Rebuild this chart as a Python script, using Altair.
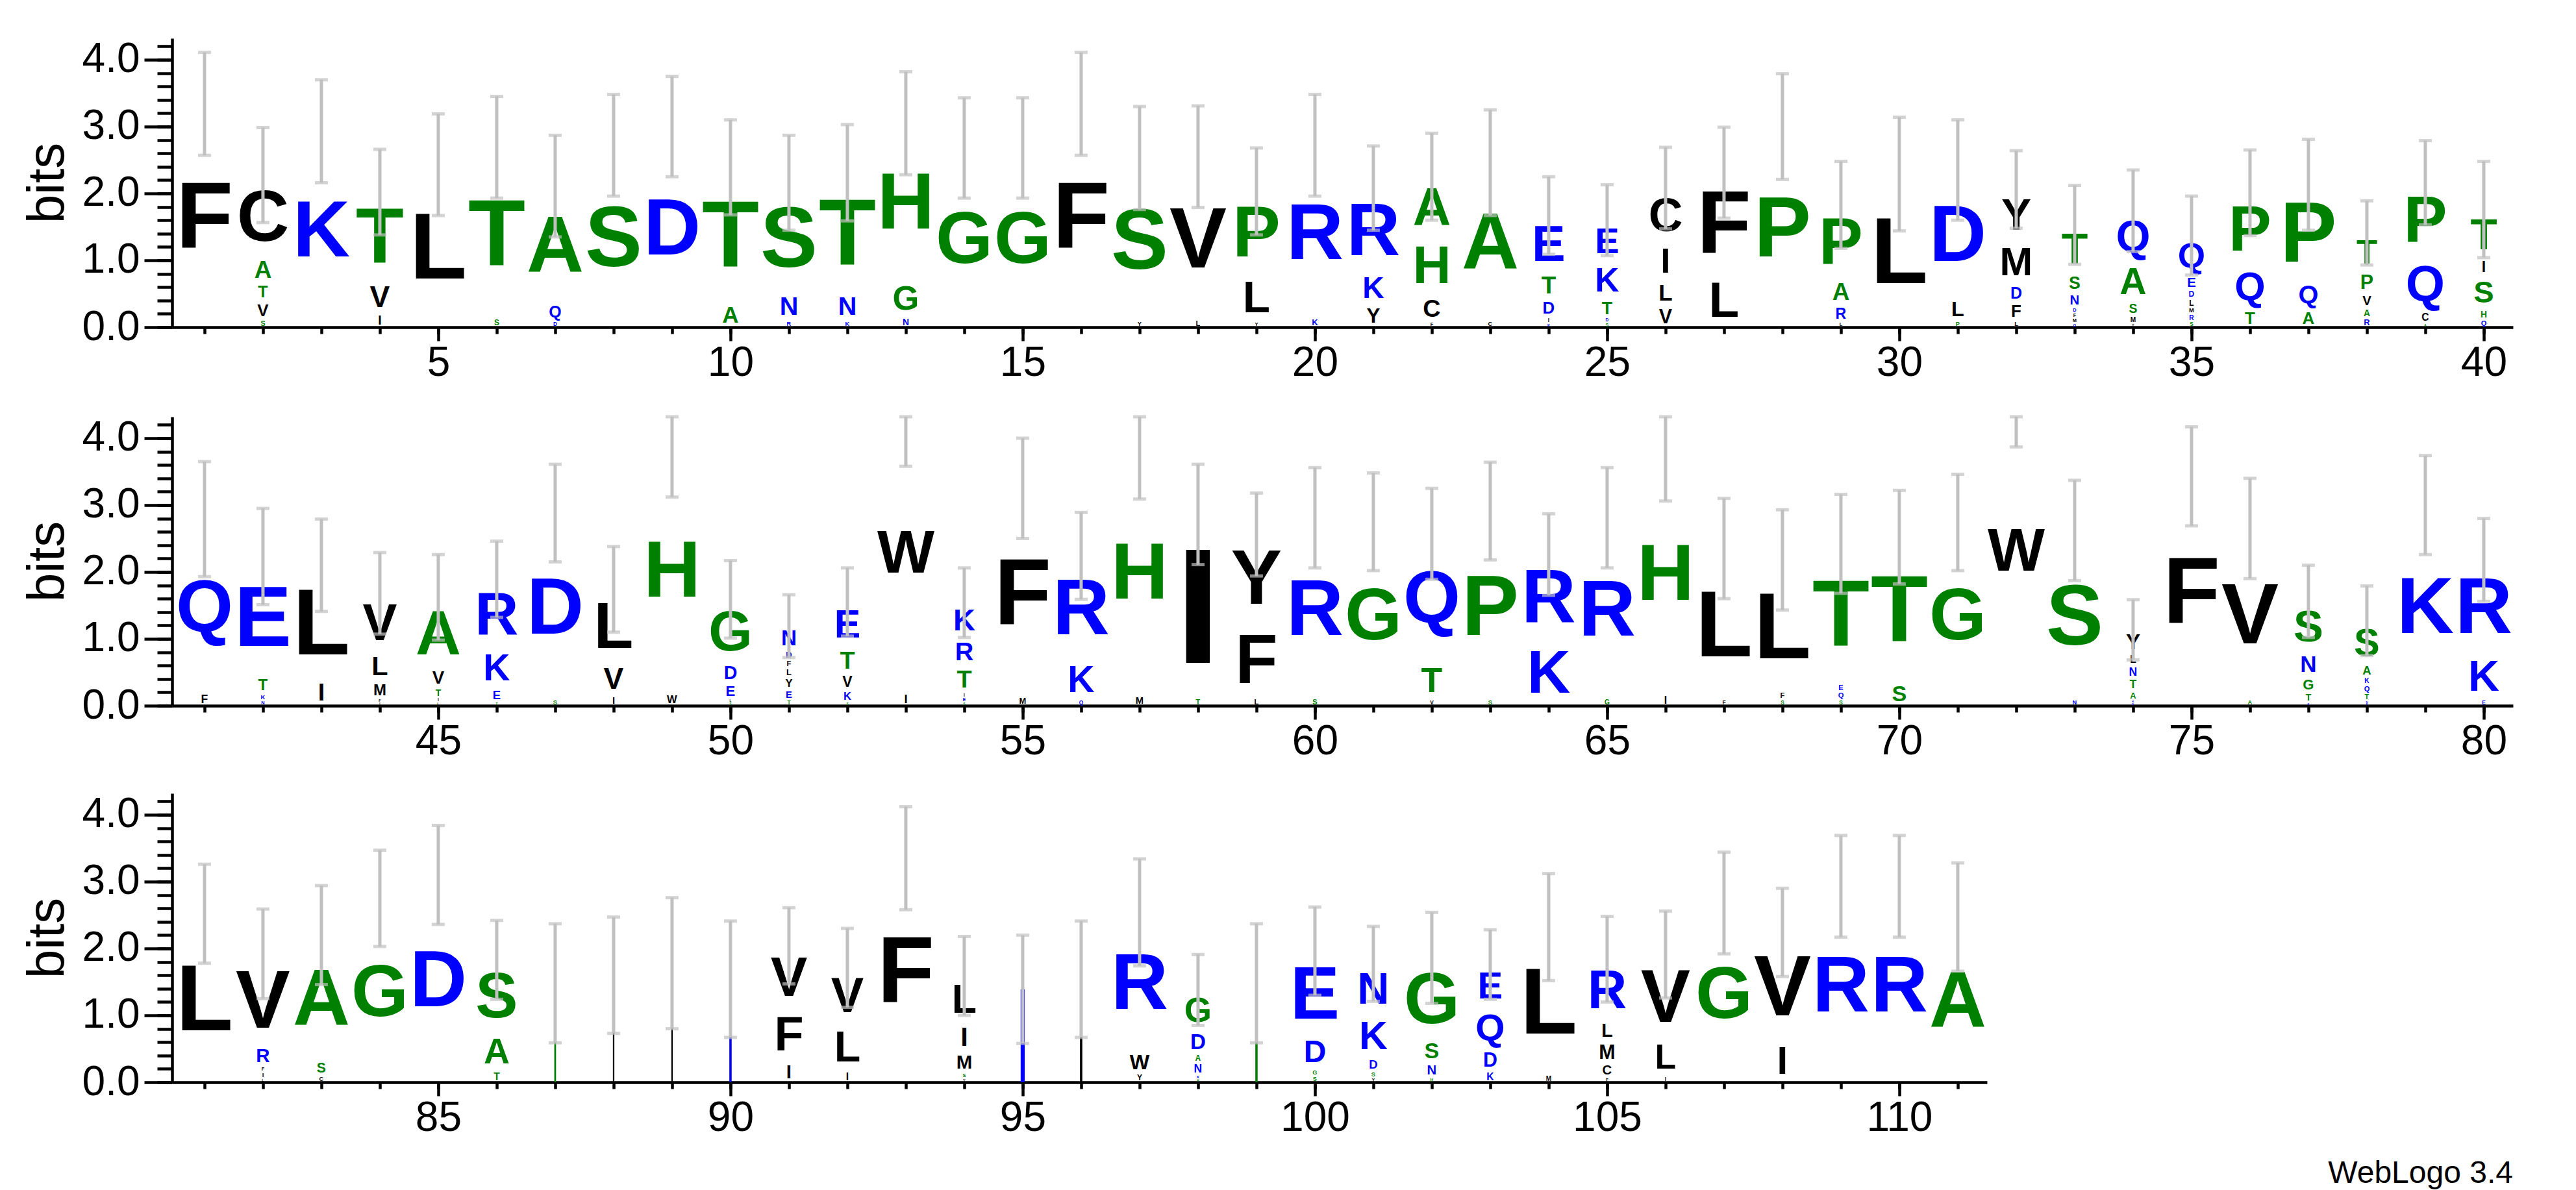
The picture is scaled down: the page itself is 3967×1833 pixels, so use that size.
import altair as alt
import pandas as pd

POSITIONS = list(range(1, 112))

# letters of every stack, listed from the bottom of the stack to the top
STACK_LETTERS = [
    "F", "SVTAC", "K", "IVT", "L", "ST", "DQA", "S", "D", "AT",
    "RNS", "KNT", "NGH", "G", "G", "F", "YS", "LV", "YLP", "KR",
    "YKR", "FCHA", "CA", "KIDTE", "SDTKE", "VLIC", "LF", "P", "LRAP", "L",
    "PLD", "LFDMY", "QMFDNST", "YMSAQ", "SRMLDEQ", "TQP", "AQP", "RAVPT", "ACQP", "QHSIT",
    "FQ", "NKTE", "IL", "IFMLV", "LITVA", "TEKR", "SD", "IVL", "WH", "SLEDG",
    "TEYLFDN", "SKVTE", "IW", "SEITRK", "MF", "QKR", "MH", "TI", "LFY", "SR",
    "G", "VTQ", "SP", "KR", "GR", "IH", "FL", "SFL", "SQET", "ST",
    "G", "W", "NS", "DKATNLY", "F", "AV", "KTGNS", "RNTQKAS", "K", "EKR",
    "L", "LIFRV", "CSA", "G", "D", "TAS", "G", "L", "V", "D",
    "IFV", "ILV", "F", "YSMIL", "K", "L", "YWR", "HKNADG", "G", "SGDE",
    "YSDKN", "HNSG", "KDQE", "ML", "FCMLR", "ILV", "G", "IV", "R", "R", "A",
]

# information (bits) of every letter, same order
STACK_BITS = [
    [3.34], [0.115, 0.28, 0.27, 0.4, 1.21], [2.93], [0.21, 0.5, 1.31], [2.43],
    [0.13, 2.56], [0.09, 0.27, 1.75], [2.72], [3.0], [0.38, 2.01],
    [0.1, 0.43, 1.63], [0.1, 0.43, 1.78], [0.15, 0.57, 2.33], [2.68], [2.68],
    [3.34], [0.1, 2.43], [0.12, 2.43], [0.08, 0.75, 1.2], [0.14, 2.58],
    [0.34, 0.5, 1.24], [0.08, 0.41, 0.88, 0.88], [0.1, 2.36], [0.06, 0.09, 0.28, 0.4, 0.84],
    [0.07, 0.07, 0.29, 0.56, 0.61],
    [0.33, 0.38, 0.58, 0.79], [0.83, 1.48], [3.0], [0.08, 0.25, 0.4, 1.1], [2.29],
    [0.1, 0.35, 1.9], [0.1, 0.28, 0.27, 0.66, 0.75], [0.06, 0.08, 0.08, 0.08, 0.22, 0.29, 0.72],
    [0.06, 0.11, 0.21, 0.62, 0.74], [0.09, 0.11, 0.1, 0.13, 0.13, 0.22, 0.59],
    [0.28, 0.66, 1.07], [0.28, 0.43, 1.42], [0.14, 0.15, 0.22, 0.33, 0.57],
    [0.06, 0.17, 0.84, 1.09], [0.12, 0.15, 0.51, 0.25, 0.73],
    [0.19, 2.6], [0.08, 0.1, 0.26, 1.79], [0.41, 1.69], [0.05, 0.06, 0.26, 0.45, 0.86],
    [0.05, 0.07, 0.15, 0.3, 1.05],
    [0.06, 0.2, 0.62, 1.01], [0.1, 2.78], [0.16, 0.5, 1.08], [0.18, 3.72], [0.05, 0.05, 0.24, 0.31, 0.94],
    [0.09, 0.16, 0.18, 0.14, 0.12, 0.14, 0.36], [0.05, 0.18, 0.25, 0.41, 0.66], [0.2, 4.2],
    [0.05, 0.07, 0.07, 0.41, 0.43, 0.51], [0.14, 3.11],
    [0.09, 0.62, 1.53], [0.16, 3.71], [0.12, 2.74], [0.12, 1.16, 1.28], [0.12, 2.69],
    [2.75], [0.09, 0.58, 1.9], [0.1, 2.81], [1.0, 1.26], [0.11, 2.7],
    [0.17, 3.65], [0.09, 2.26], [0.09, 0.12, 1.97], [0.09, 0.12, 0.12, 2.09], [0.37, 2.15],
    [2.74], [4.67], [0.1, 2.52], [0.04, 0.045, 0.14, 0.19, 0.19, 0.17, 0.36], [3.43],
    [0.1, 2.55], [0.045, 0.15, 0.24, 0.38, 0.745], [0.035, 0.04, 0.12, 0.12, 0.11, 0.2, 0.645],
    [3.0], [0.09, 0.72, 1.37],
    [2.52], [0.06, 0.1, 0.08, 0.32, 1.36], [0.1, 0.23, 1.87], [2.75], [3.1],
    [0.17, 0.6, 1.06], [1.48], [1.6], [1.78], [1.54],
    [0.32, 0.8, 0.92], [0.17, 0.72, 0.82], [3.35], [0.06, 0.08, 0.32, 0.45, 0.68], [1.39],
    [1.54], [0.13, 0.35, 2.06], [0.05, 0.06, 0.19, 0.13, 0.36, 0.59], [1.48], [0.1, 0.1, 0.52, 1.24],
    [0.07, 0.1, 0.2, 0.66, 0.74], [0.07, 0.22, 0.37, 1.2], [0.17, 0.33, 0.63, 0.63], [0.11, 2.21],
    [0.07, 0.22, 0.33, 0.31, 0.91],
    [0.09, 0.58, 1.24], [2.68], [0.65, 1.59], [2.93], [2.93], [2.47],
]

# half-length of the error bar drawn on top of each stack (bits)
ERROR_BITS = [
    0.77, 0.71, 0.77, 0.64, 0.76, 0.76, 0.76, 0.76, 0.75, 0.71,
    0.71, 0.72, 0.77, 0.75, 0.75, 0.77, 0.77, 0.76, 0.65, 0.76,
    0.63, 0.65, 0.79, 0.58, 0.53, 0.61, 0.68, 0.79, 0.65, 0.85,
    0.75, 0.58, 0.59, 0.61, 0.59, 0.64, 0.68, 0.48, 0.63, 0.72,
    0.86, 0.72, 0.69, 0.61, 0.64, 0.57, 0.73, 0.64, 0.78, 0.58,
    0.47, 0.51, 0.82, 0.52, 0.75, 0.65, 0.78, 0.75, 0.62, 0.75,
    0.73, 0.68, 0.73, 0.61, 0.75, 0.76, 0.75, 0.75, 0.74, 0.70,
    0.72, 0.80, 0.75, 0.45, 0.74, 0.75, 0.54, 0.52, 0.74, 0.62,
    0.74, 0.67, 0.74, 0.72, 0.74, 0.59, 0.89, 0.87, 0.98, 0.87,
    0.57, 0.59, 0.77, 0.59, 0.81, 0.87, 0.80, 0.53, 0.89, 0.66,
    0.56, 0.68, 0.52, 0.80, 0.64, 0.65, 0.76, 0.66, 0.76, 0.76, 0.81,
]

# columns that are mostly gaps: fraction of the column width that the stack occupies
THIN_COLUMNS = {87: 0.03, 88: 0.025, 89: 0.025, 90: 0.04, 95: 0.07, 96: 0.04, 99: 0.04}

ROWS = [(1, 40), (41, 80), (81, 111)]

# colour scheme (hydrophobicity)
BLUE_LETTERS = "RKDENQ"
GREEN_LETTERS = "SGHTAP"
BLACK_LETTERS = "YVMCLFIW"

# ---------------- layout / style ----------------
COL_PX = 90.0
PANEL_H = 445
Y_MAX = 4.32
PXB = PANEL_H / Y_MAX
FONT = "Liberation Sans"
GRAY = "#c0c0c0"

# advance widths (em) of the bold face, and the height of its text box
ADV = {"A": .722, "C": .722, "D": .722, "E": .667, "F": .611, "G": .778, "H": .722,
       "I": .278, "K": .722, "L": .611, "M": .833, "N": .722, "P": .667, "Q": .778,
       "R": .722, "S": .667, "T": .611, "V": .667, "W": .944, "Y": .667}
ASC, DESC = 0.905, 0.212
BOX = ASC + DESC

color_domain = list(BLUE_LETTERS + GREEN_LETTERS + BLACK_LETTERS)
color_range = (["#0000ff"] * len(BLUE_LETTERS) + ["#008000"] * len(GREEN_LETTERS)
               + ["#000000"] * len(BLACK_LETTERS))
color_scale = alt.Scale(domain=color_domain, range=color_range)

# ---------------- tables ----------------
letter_rows, thin_rows, err_rows = [], [], []
for pos, letters, bits, err in zip(POSITIONS, STACK_LETTERS, STACK_BITS, ERROR_BITS):
    y0 = 0.0
    for letter, h in zip(letters, bits):
        if pos in THIN_COLUMNS:
            w = THIN_COLUMNS[pos]
            thin_rows.append(dict(pos=pos, letter=letter, x0=pos - w / 2, x1=pos + w / 2,
                                  y0=y0, y1=y0 + h))
        else:
            # the letter's text box fits inside its slot of the stack
            fs = min(h * PXB / BOX, (COL_PX - 2) / ADV[letter])
            fs = max(fs, 2.0)
            ybase = y0 + h / 2 - ((ASC - DESC) / 2) * fs / PXB
            letter_rows.append(dict(pos=pos, letter=letter, fs=round(fs, 2), ybase=ybase))
        y0 += h
    total = y0
    err_rows.append(dict(pos=pos, lo=total - err, hi=max(min(total + err, Y_MAX), total - err)))

df_letters = pd.DataFrame(letter_rows)
df_thin = pd.DataFrame(thin_rows)
df_err = pd.DataFrame(err_rows)

Y_MINOR = [round(0.2 * i, 1) for i in range(22)]
Y_MAJOR = [0, 1, 2, 3, 4]


def panel(lo, hi):
    width = (hi - lo + 1.055) * COL_PX
    xs = alt.Scale(domain=[lo - 0.555, hi + 0.5], nice=False, zero=False)
    ys = alt.Scale(domain=[0, Y_MAX], nice=False, zero=False)

    minor_x = alt.Axis(orient="bottom", values=list(range(lo, hi + 1)), tickSize=10,
                       tickWidth=4.5, labels=False, title=None, grid=False,
                       domain=True, domainWidth=4.5, domainColor="black", tickColor="black")
    major_x = alt.Axis(orient="bottom", values=[v for v in range(lo, hi + 1) if v % 5 == 0],
                       tickSize=21, tickWidth=4.5, labelFontSize=64, labelFont=FONT,
                       labelColor="black", labelPadding=2, labelFlush=False,
                       labelOverlap=False, title=None, grid=False, domain=False,
                       tickColor="black")
    minor_y = alt.Axis(orient="left", values=Y_MINOR, tickSize=23, tickWidth=4.5,
                       labels=False, title=None, grid=False, domain=True,
                       domainWidth=4.5, domainColor="black", tickColor="black")
    major_y = alt.Axis(orient="left", values=Y_MAJOR, format=".1f", tickSize=43,
                       tickWidth=4.5, labelFontSize=64, labelFont=FONT,
                       labelColor="black", labelPadding=7, labelFlush=False,
                       title="bits", titleFont=FONT, titleFontSize=80,
                       titleFontWeight="normal", titleColor="black", titlePadding=12,
                       grid=False, domain=False, tickColor="black")

    d_let = df_letters[(df_letters.pos >= lo) & (df_letters.pos <= hi)]
    d_err = df_err[(df_err.pos >= lo) & (df_err.pos <= hi)]

    letters = alt.Chart(d_let).mark_text(
        font=FONT, fontWeight="bold", align="center", baseline="alphabetic"
    ).encode(
        x=alt.X("pos:Q", scale=xs, axis=minor_x),
        y=alt.Y("ybase:Q", scale=ys, axis=minor_y),
        text="letter:N",
        size=alt.Size("fs:Q", scale=None),
        color=alt.Color("letter:N", scale=color_scale, legend=None),
    )
    layers = [letters]

    if len(df_thin):
        d_thin = df_thin[(df_thin.pos >= lo) & (df_thin.pos <= hi)]
        if len(d_thin):
            layers.append(alt.Chart(d_thin).mark_rect().encode(
                x=alt.X("x0:Q", scale=xs, axis=None), x2="x1:Q",
                y=alt.Y("y0:Q", scale=ys, axis=None), y2="y1:Q",
                color=alt.Color("letter:N", scale=color_scale, legend=None),
            ))

    rule = alt.Chart(d_err).mark_rule(color=GRAY, strokeWidth=5).encode(
        x=alt.X("pos:Q", scale=xs, axis=major_x),
        y=alt.Y("lo:Q", scale=ys, axis=major_y),
        y2="hi:Q",
    )
    cap_lo = alt.Chart(d_err).mark_tick(color=GRAY, thickness=5, size=20,
                                        orient="horizontal").encode(
        x=alt.X("pos:Q", scale=xs, axis=None),
        y=alt.Y("lo:Q", scale=ys, axis=None),
    )
    cap_hi = alt.Chart(d_err).mark_tick(color=GRAY, thickness=5, size=20,
                                        orient="horizontal").encode(
        x=alt.X("pos:Q", scale=xs, axis=None),
        y=alt.Y("hi:Q", scale=ys, axis=None),
    )
    layers += [rule, cap_lo, cap_hi]

    return alt.layer(*layers).resolve_axis(x="independent", y="independent").properties(
        width=width, height=PANEL_H)


chart = alt.vconcat(*[panel(lo, hi) for lo, hi in ROWS], spacing=48).properties(
    title=alt.TitleParams("WebLogo 3.4", orient="bottom", anchor="end", fontSize=48,
                          fontWeight="normal", font=FONT, color="black", offset=30),
    padding={"left": 25, "top": 51, "right": 5, "bottom": 2},
).configure_view(stroke=None)

chart.save("out.html", embed_options={"renderer": "svg", "actions": False})
